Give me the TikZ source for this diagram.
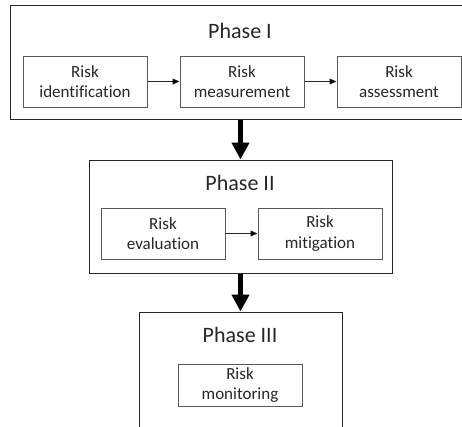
\documentclass[tikz,border=0pt]{standalone}
\usepackage{fontspec}
\setmainfont{Carlito}[Ligatures=NoCommon]
\usetikzlibrary{arrows.meta,positioning}

\definecolor{txtgray}{HTML}{262626}
\definecolor{boxgray}{HTML}{595959}

\begin{document}
\begin{tikzpicture}[x=1pt,y=-1pt,
    risk/.style={draw=boxgray,line width=1pt,text=txtgray,align=center,
      minimum width=124pt,minimum height=51pt,inner sep=0pt,
      font=\fontsize{17}{20.5}\selectfont},
    phase/.style={draw=txtgray,line width=1pt,inner sep=0pt},
    title/.style={text=txtgray,anchor=base,inner sep=0pt,
      font=\fontsize{22}{26}\selectfont},
    thin/.style={-{Triangle[length=7pt,width=6pt]},line width=0.6pt,draw=txtgray},
    thick/.style={-{Triangle[length=17pt,width=17pt]},line width=5.5pt,draw=black},
    node distance=32pt]
  \clip (0,0) rectangle (462,426);

  % Phase I
  \node[phase,minimum width=470pt,minimum height=114pt] (ph1) at (245,62) {};
  \node[title] (t1) at (240,38) {Phase I};
  \node[risk] (r11) at (85,81.5) {Risk\\identification};
  \node[risk] (r12) [right=of r11] {Risk\\measurement};
  \node[risk] (r13) [right=of r12] {Risk\\assessment};

  % Phase II
  \node[phase,minimum width=303pt,minimum height=113pt] (ph2) at (240.5,216.5) {};
  \node[title] (t2) at (240,190) {Phase II};
  \node[risk] (r21) at (163,233.5) {Risk\\evaluation};
  \node[risk] (r22) [right=of r21] {Risk\\mitigation};

  % Phase III
  \node[phase,minimum width=203pt,minimum height=140pt] (ph3) at (240.5,382) {};
  \node[title] (t3) at (240,342) {Phase III};
  \node[risk,minimum height=42pt] (r31) at (240,385) {Risk\\monitoring};

  \path[thin]
  (r11) edge (r12)
  (r12) edge (r13)
  (r21) edge (r22)
  ;

  \draw[thick] (ph1.south -| ph2.north) -- (ph2.north);
  \draw[thick] (ph2.south) -- (ph3.north);
\end{tikzpicture}
\end{document}
